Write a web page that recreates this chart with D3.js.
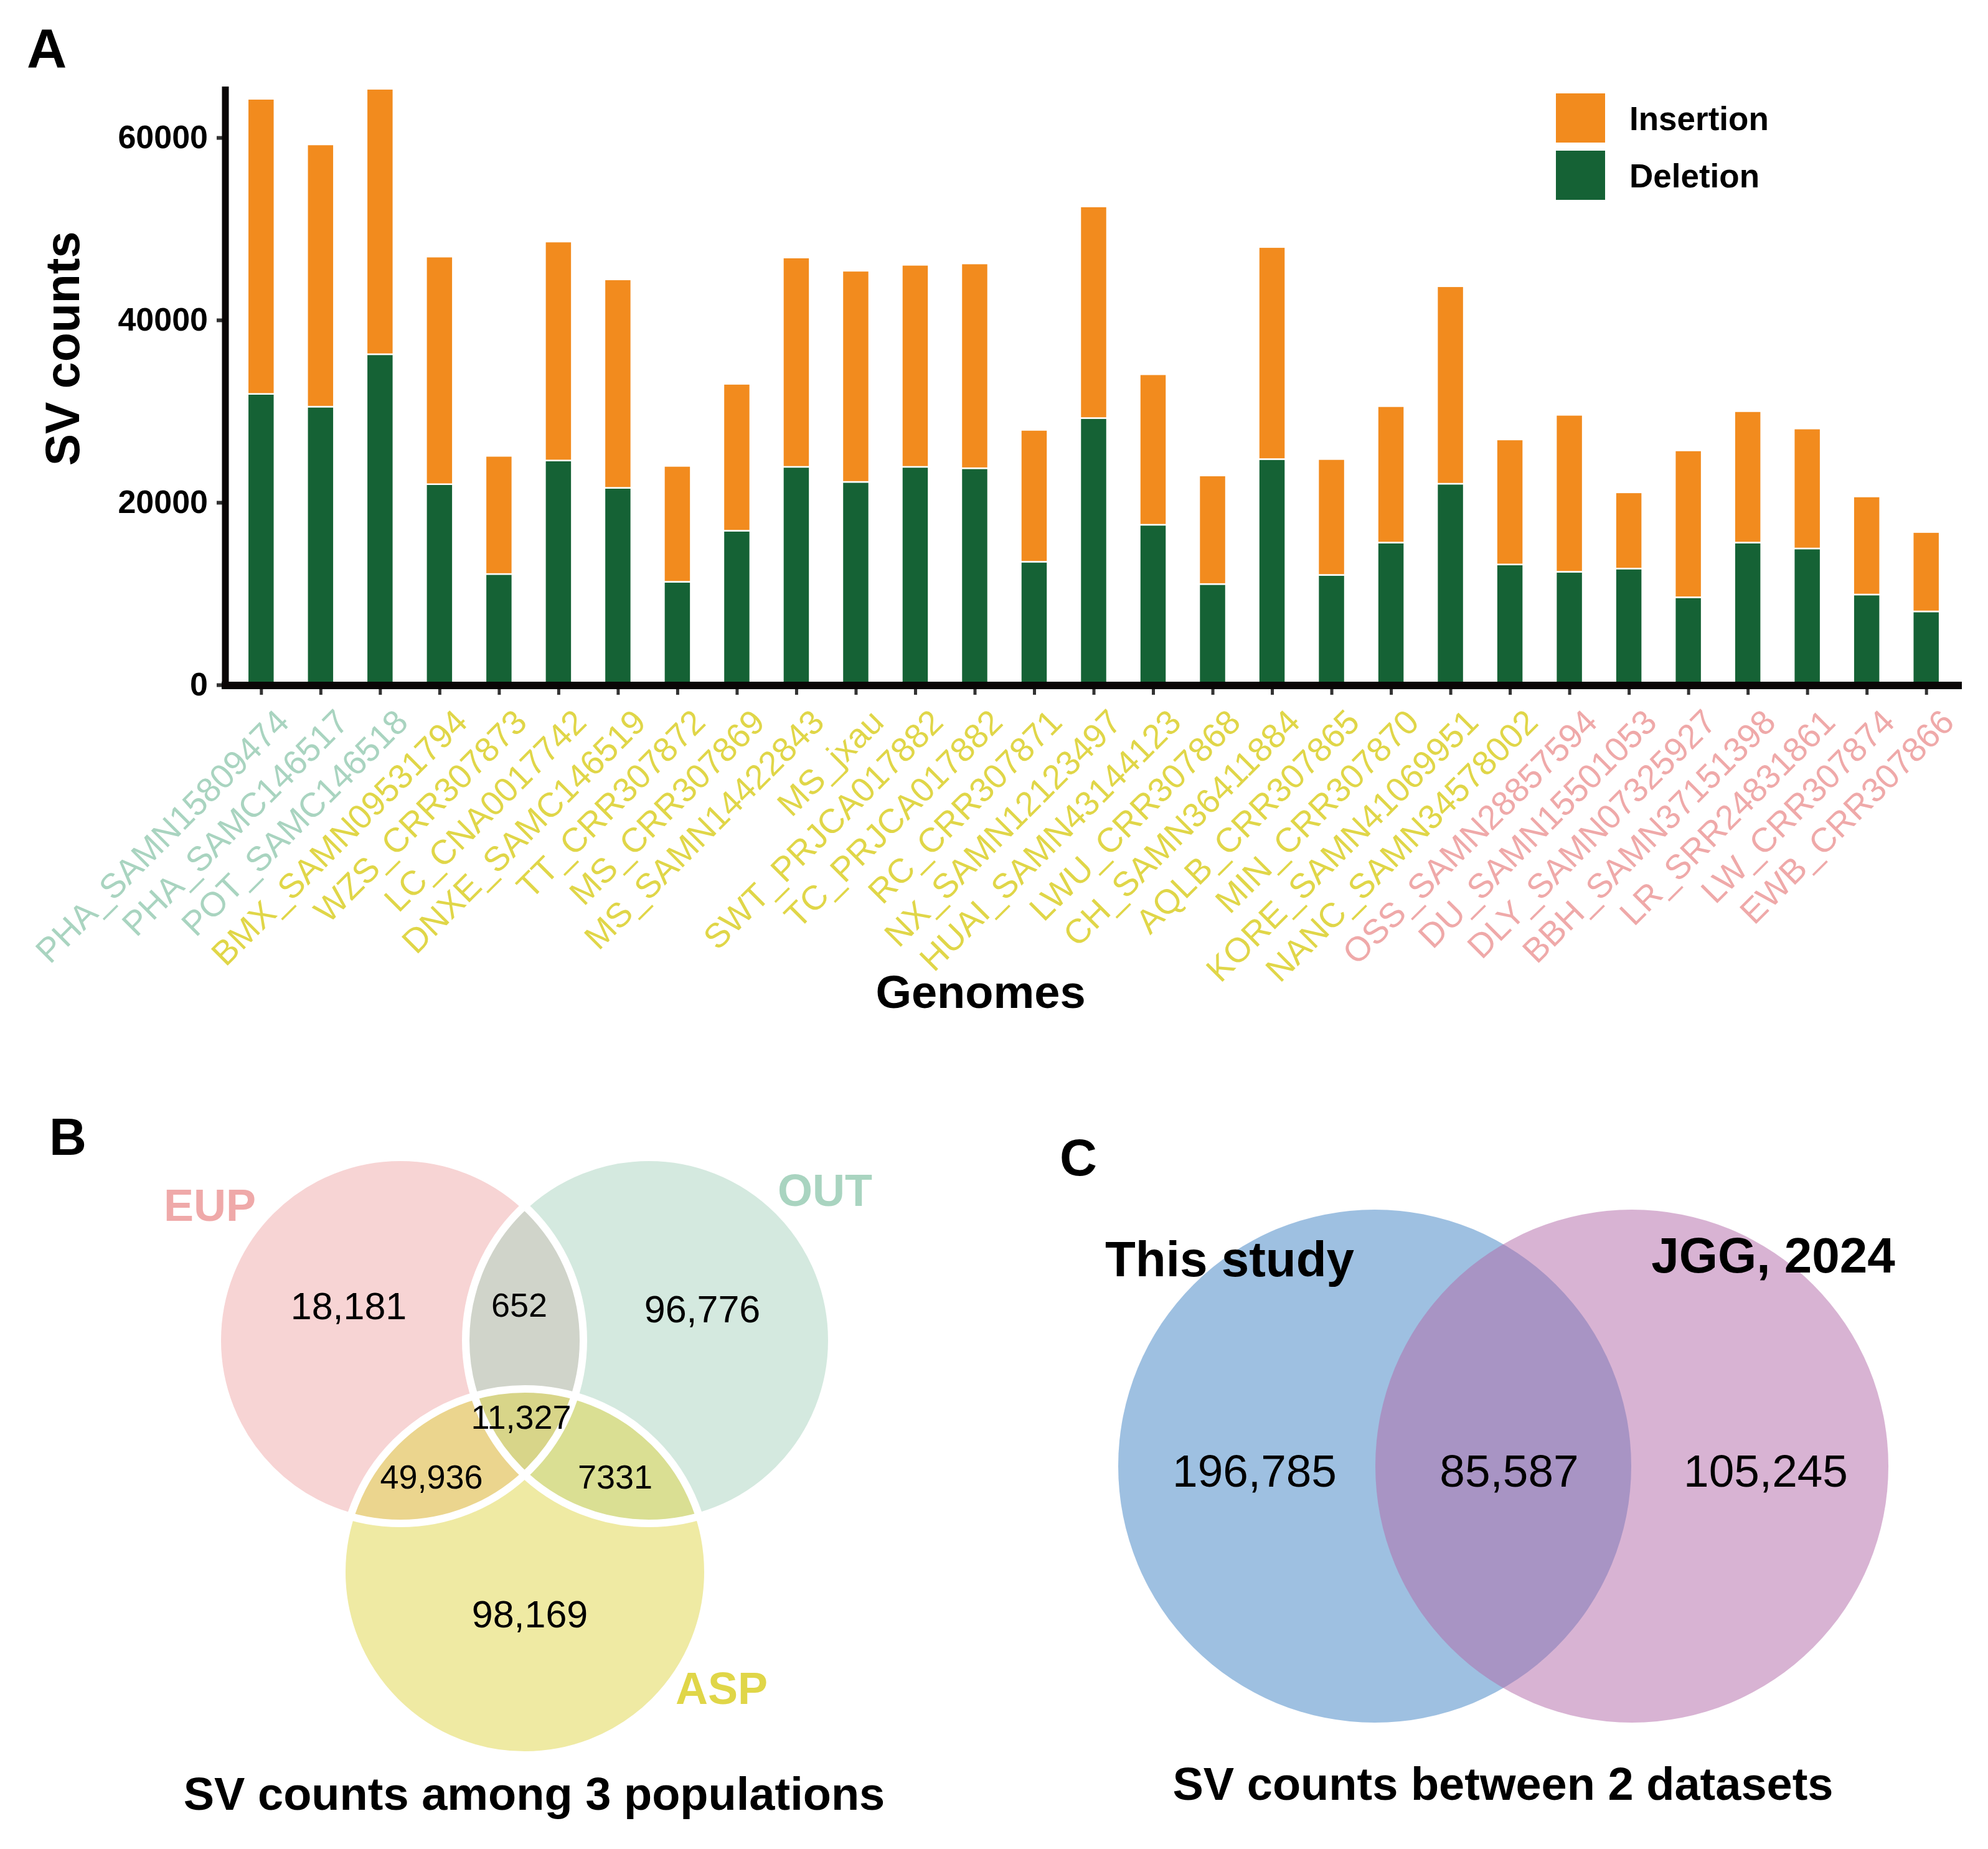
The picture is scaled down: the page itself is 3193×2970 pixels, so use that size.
<!DOCTYPE html>
<html>
<head>
<meta charset="utf-8">
<script src="https://cdn.jsdelivr.net/npm/d3@7"></script>
<style>
body { margin: 0; background: #fff; }
text { font-family: "Liberation Sans", Arial, sans-serif; }
</style>
</head>
<body>
<svg width="3193" height="2970"></svg>
<script>
// panel A data
var genomes = ["PHA_SAMN15809474","PHA_SAMC146517","POT_SAMC146518","BMX_SAMN09531794","WZS_CRR307873",
  "LC_CNA0017742","DNXE_SAMC146519","TT_CRR307872","MS_CRR307869","MS_SAMN14422843","MS_jxau",
  "SWT_PRJCA017882","TC_PRJCA017882","RC_CRR307871","NX_SAMN12123497","HUAI_SAMN43144123",
  "LWU_CRR307868","CH_SAMN36411884","AQLB_CRR307865","MIN_CRR307870","KORE_SAMN41069951",
  "NANC_SAMN34578002","OSS_SAMN28857594","DU_SAMN15501053","DLY_SAMN07325927","BBH_SAMN37151398",
  "LR_SRR24831861","LW_CRR307874","EWB_CRR307866"];
var populations = ["OUT","OUT","OUT","ASP","ASP","ASP","ASP","ASP","ASP","ASP","ASP","ASP","ASP",
  "ASP","ASP","ASP","ASP","ASP","ASP","ASP","ASP","ASP","EUP","EUP","EUP","EUP","EUP","EUP","EUP"];
var deletion = [31900,30500,36250,22000,12150,24600,21600,11300,16900,23900,22250,23900,23750,
  13500,29250,17550,11050,24750,12050,15600,22050,13200,12400,12750,9600,15600,14950,9900,8050];
var insertion = [32350,28750,29100,24950,12950,24000,22850,12700,16100,22950,23150,22150,22450,
  14450,23200,16500,11900,23250,12700,14950,21650,13700,17200,8350,16100,14400,13150,10750,8700];
var yTicks = [0, 20000, 40000, 60000];
var svTypes = ["Insertion", "Deletion"];

// panel B data
var venn3Sets = ["EUP", "OUT", "ASP"];
var venn3Labels = ["18,181", "652", "96,776", "11,327", "49,936", "7331", "98,169"];

// panel C data
var venn2Sets = ["This study", "JGG, 2024"];
var venn2Labels = ["196,785", "85,587", "105,245"];

var popColor = {OUT: "#a9d4c0", ASP: "#e0d648", EUP: "#efa9a9"};
var typeColor = {Insertion: "#f28b1e", Deletion: "#156235"};

var svg = d3.select("svg");

// ---------- A: stacked bars ----------
var x = d3.scalePoint().domain(genomes).range([362, 3151]).padding(0.6);
var y = d3.scaleLinear().domain([0, 65600]).range([1100, 139]);
var bw = x.step() * 0.45;

var rows = genomes.map(function(g, i) {
  return {g: g, del: deletion[i], ins: insertion[i]};
});

var bars = svg.append("g");
bars.selectAll("rect.del").data(rows).enter().append("rect")
  .attr("x", function(d) { return x(d.g) - bw / 2; })
  .attr("width", bw)
  .attr("y", function(d) { return y(d.del); })
  .attr("height", function(d) { return y(0) - y(d.del); })
  .attr("fill", typeColor.Deletion)
  .attr("stroke", "#fff").attr("stroke-width", 2.5);
bars.selectAll("rect.ins").data(rows).enter().append("rect")
  .attr("x", function(d) { return x(d.g) - bw / 2; })
  .attr("width", bw)
  .attr("y", function(d) { return y(d.del + d.ins); })
  .attr("height", function(d) { return y(d.del) - y(d.del + d.ins); })
  .attr("fill", typeColor.Insertion)
  .attr("stroke", "#fff").attr("stroke-width", 2.5);

// y axis
var yAxis = svg.append("g")
  .attr("transform", "translate(362,0)")
  .call(d3.axisLeft(y).tickValues(yTicks).tickFormat(d3.format("d")).tickSize(14).tickPadding(14));
yAxis.select(".domain").remove();
yAxis.selectAll(".tick line").attr("stroke", "#333").attr("stroke-width", 6);
yAxis.selectAll(".tick text").attr("font-size", 52).attr("font-weight", "bold").attr("fill", "#000");
svg.append("line").attr("x1", 362).attr("x2", 362).attr("y1", 139).attr("y2", 1107)
  .attr("stroke", "#0a0606").attr("stroke-width", 11);

// x axis
var xAxis = svg.append("g")
  .attr("transform", "translate(0,1101)")
  .call(d3.axisBottom(x).tickSize(15).tickFormat(""));
xAxis.select(".domain").remove();
xAxis.selectAll(".tick line").attr("stroke", "#333").attr("stroke-width", 5);
svg.append("line").attr("x1", 356).attr("x2", 3151).attr("y1", 1101).attr("y2", 1101)
  .attr("stroke", "#0a0606").attr("stroke-width", 12);

svg.append("g").selectAll("text").data(genomes).enter().append("text")
  .attr("transform", function(d) { return "translate(" + (x(d) + 48) + ",1163) rotate(-45)"; })
  .attr("text-anchor", "end")
  .attr("font-size", 55)
  .attr("fill", function(d, i) { return popColor[populations[i]]; })
  .text(function(d) { return d; });

svg.append("text").attr("x", 1575).attr("y", 1619).attr("text-anchor", "middle")
  .attr("font-size", 74).attr("font-weight", "bold").text("Genomes");
svg.append("text").attr("transform", "translate(127,560) rotate(-90)").attr("text-anchor", "middle")
  .attr("font-size", 77).attr("font-weight", "bold").text("SV counts");

// legend
var leg = svg.append("g").selectAll("g").data(svTypes).enter().append("g")
  .attr("transform", function(d, i) { return "translate(2499," + (150 + i * 92) + ")"; });
leg.append("rect").attr("width", 79).attr("height", 79)
  .attr("fill", function(d) { return typeColor[d]; });
leg.append("text").attr("x", 118).attr("y", 59).attr("font-size", 53).attr("font-weight", "bold")
  .text(function(d) { return d; });

// panel letters
svg.append("text").attr("x", 43).attr("y", 109).attr("font-size", 89).attr("font-weight", "bold").text("A");
svg.append("text").attr("x", 79).attr("y", 1855).attr("font-size", 83).attr("font-weight", "bold").text("B");
svg.append("text").attr("x", 1702).attr("y", 1888).attr("font-size", 83).attr("font-weight", "bold").text("C");

// ---------- B: three-set venn ----------
var v3 = [
  {name: "EUP", cx: 643, cy: 2153, lx: 337, ly: 1961},
  {name: "OUT", cx: 1042, cy: 2153, lx: 1325, ly: 1937},
  {name: "ASP", cx: 843, cy: 2525, lx: 1159, ly: 2737}
];
var r3 = 294;
var gB = svg.append("g");
gB.selectAll("circle.fill").data(v3).enter().append("circle")
  .attr("cx", function(d) { return d.cx; }).attr("cy", function(d) { return d.cy; }).attr("r", r3)
  .attr("fill", function(d) { return popColor[d.name]; }).attr("fill-opacity", 0.5);
gB.selectAll("circle.edge").data(v3).enter().append("circle")
  .attr("cx", function(d) { return d.cx; }).attr("cy", function(d) { return d.cy; }).attr("r", r3)
  .attr("fill", "none").attr("stroke", "#fff").attr("stroke-width", 12);
gB.selectAll("text.set").data(v3).enter().append("text")
  .attr("x", function(d) { return d.lx; }).attr("y", function(d) { return d.ly; })
  .attr("text-anchor", "middle").attr("font-size", 72).attr("font-weight", "bold")
  .attr("fill", function(d) { return popColor[d.name]; })
  .text(function(d, i) { return venn3Sets[i]; });
var pos3 = [[560, 2119, 61], [834, 2115, 54], [1128, 2124, 61], [837, 2295, 54],
            [693, 2391, 54], [988, 2391, 54], [851, 2614, 61]];
gB.selectAll("text.num").data(venn3Labels).enter().append("text")
  .attr("x", function(d, i) { return pos3[i][0]; }).attr("y", function(d, i) { return pos3[i][1]; })
  .attr("font-size", function(d, i) { return pos3[i][2]; })
  .attr("text-anchor", "middle").text(function(d) { return d; });
svg.append("text").attr("x", 858).attr("y", 2907).attr("text-anchor", "middle")
  .attr("font-size", 74).attr("font-weight", "bold").text("SV counts among 3 populations");

// ---------- C: two-set venn ----------
var v2 = [
  {cx: 2208, cy: 2355, color: "#3d81c3", lx: 1975, ly: 2050},
  {cx: 2621, cy: 2355, color: "#b167a7", lx: 2848, ly: 2044}
];
var gC = svg.append("g");
gC.selectAll("circle").data(v2).enter().append("circle")
  .attr("cx", function(d) { return d.cx; }).attr("cy", function(d) { return d.cy; }).attr("r", 412)
  .attr("fill", function(d) { return d.color; }).attr("fill-opacity", 0.5);
gC.selectAll("text.set").data(v2).enter().append("text")
  .attr("x", function(d) { return d.lx; }).attr("y", function(d) { return d.ly; })
  .attr("text-anchor", "middle").attr("font-size", 80).attr("font-weight", "bold")
  .text(function(d, i) { return venn2Sets[i]; });
var pos2 = [2015, 2424, 2836];
gC.selectAll("text.num").data(venn2Labels).enter().append("text")
  .attr("x", function(d, i) { return pos2[i]; }).attr("y", 2388)
  .attr("text-anchor", "middle").attr("font-size", 73).text(function(d) { return d; });
svg.append("text").attr("x", 2414).attr("y", 2891).attr("text-anchor", "middle")
  .attr("font-size", 74).attr("font-weight", "bold").text("SV counts between 2 datasets");
</script>
</body>
</html>
